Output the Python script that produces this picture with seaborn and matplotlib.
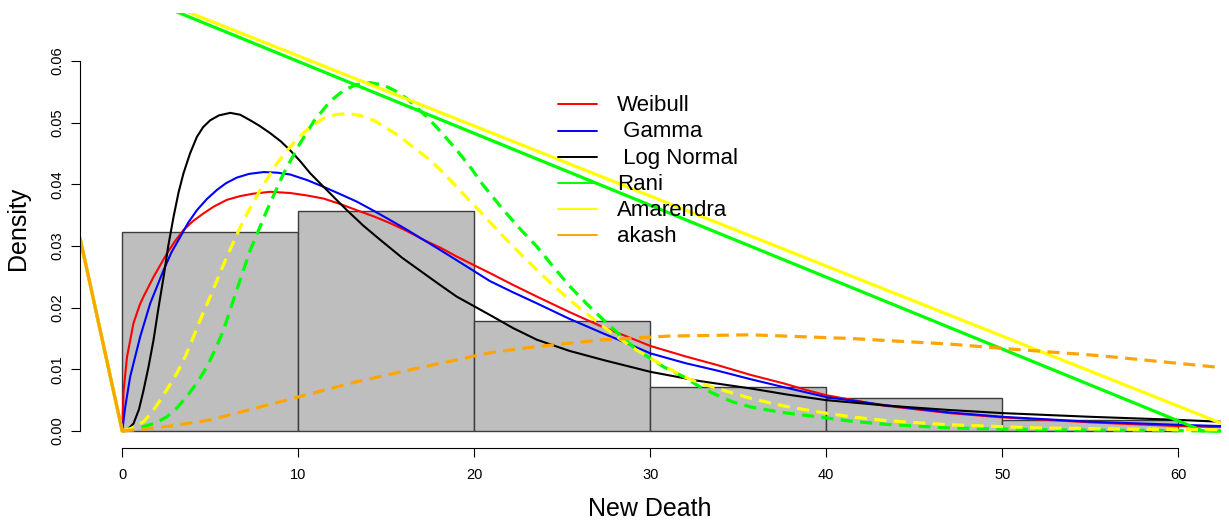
import numpy as np
import matplotlib
matplotlib.use("Agg")
import matplotlib.pyplot as plt
from matplotlib.lines import Line2D
import seaborn as sns

# histogram of new deaths (density scale)
bin_edges = [0, 10, 20, 30, 40, 50, 60]
hist_density = [0.0322, 0.0357, 0.0179, 0.0071, 0.0054, 0.0017]

# fitted densities
weibull_x = [0, 0.08, 0.27, 0.64, 1.0, 1.21, 1.78, 2.1, 2.54, 3.0, 3.48, 4.0, 4.62, 5.2, 5.95,
             6.7, 7.46, 8.41, 9.55, 10.5, 11.44, 12.4, 13.33, 14.3, 15.23, 16.2, 17.12, 18.1,
             19.0, 20.9, 22.2, 23.56, 25.4, 27.35, 28.7, 30, 32.0, 33.8, 35.7, 37.6, 38.8, 40,
             43.3, 47, 50, 55, 60, 62.4]
weibull_y = [0, 0.0066, 0.012, 0.0175, 0.0205, 0.0218, 0.025, 0.0266, 0.0288, 0.0308, 0.0326,
             0.034, 0.0353, 0.0364, 0.0375, 0.0381, 0.0385, 0.0388, 0.0386, 0.0382, 0.0377,
             0.0368, 0.0358, 0.0348, 0.0337, 0.0324, 0.031, 0.0297, 0.0283, 0.0256, 0.0237,
             0.0218, 0.0193, 0.0168, 0.0153, 0.0138, 0.0121, 0.0107, 0.0091, 0.0077, 0.0067,
             0.0058, 0.0041, 0.0029, 0.0022, 0.0014, 0.0008, 0.0006]

gamma_x = [0, 0.17, 0.45, 1.02, 1.59, 2.35, 2.8, 3.3, 3.75, 4.24, 4.8, 5.38, 5.9, 6.51, 7.2,
           8.03, 8.8, 9.55, 10.5, 11.44, 12.4, 13.33, 14.3, 15.23, 16.2, 17.12, 18.1, 19.0,
           20.9, 22.2, 23.56, 25.4, 27.35, 28.7, 30, 32.0, 33.8, 35.7, 37.6, 38.8, 40, 43.3,
           47, 50, 55, 60, 62.4]
gamma_y = [0, 0.0039, 0.0088, 0.0153, 0.0207, 0.0261, 0.029, 0.0315, 0.0338, 0.0358, 0.0376,
           0.0391, 0.0402, 0.0411, 0.0417, 0.042, 0.0419, 0.0416, 0.0407, 0.0396, 0.0384,
           0.0372, 0.0357, 0.0342, 0.0326, 0.031, 0.0293, 0.0277, 0.0243, 0.0225, 0.0207,
           0.0182, 0.0158, 0.0142, 0.0126, 0.011, 0.0098, 0.0084, 0.0071, 0.0063, 0.0055,
           0.0042, 0.003, 0.0023, 0.0015, 0.001, 0.0008]

lognorm_x = [0, 0.3, 0.64, 0.95, 1.21, 1.5, 1.78, 2.05, 2.35, 2.62, 2.92, 3.2, 3.48, 3.85,
             4.24, 4.6, 5.0, 5.5, 6.14, 6.7, 7.27, 7.8, 8.41, 9.0, 9.55, 10.1, 10.68, 11.44,
             12.1, 12.77, 13.7, 14.66, 15.9, 17.12, 18.0, 19.0, 20.9, 22.2, 23.56, 25.4, 27.35,
             30, 32.8, 35.7, 37.8, 40, 43.5, 47, 50, 55, 60, 62.4]
lognorm_y = [0, 0.0002, 0.0012, 0.0035, 0.0066, 0.0105, 0.0148, 0.0198, 0.025, 0.0301, 0.0348,
             0.0387, 0.0418, 0.045, 0.0477, 0.0493, 0.0504, 0.0512, 0.0516, 0.0513, 0.0504,
             0.0495, 0.0483, 0.047, 0.0455, 0.0438, 0.0418, 0.0396, 0.0377, 0.0358, 0.0333,
             0.031, 0.0281, 0.0256, 0.0238, 0.0218, 0.0188, 0.0167, 0.0148, 0.013, 0.0115,
             0.0096, 0.0081, 0.0069, 0.0059, 0.005, 0.0041, 0.0034, 0.0029, 0.0023, 0.0018,
             0.0015]

rani_dash_x = [0, 1.21, 1.9, 2.54, 3.1, 3.67, 4.25, 4.81, 5.3, 5.76, 6.51, 7.27, 8.22, 9.17,
               10.11, 10.9, 11.82, 12.6, 13.33, 14.1, 14.85, 15.5, 16.18, 16.8, 17.5, 18.2, 19.0,
               19.8, 20.5, 21.67, 22.6, 23.56, 24.5, 25.45, 26.4, 27.35, 28.3, 29.24, 30.0,
               30.76, 31.9, 32.8, 33.8, 34.7, 35.7, 37.5, 39.5, 41.4, 43.3, 45, 47, 52, 57, 62.4]
rani_dash_y = [0, 0.0007, 0.0013, 0.0023, 0.0037, 0.0056, 0.0078, 0.0104, 0.0133, 0.0164,
               0.0229, 0.0293, 0.0358, 0.0418, 0.0467, 0.0503, 0.0535, 0.0553, 0.0562, 0.0565,
               0.0561, 0.0552, 0.0539, 0.0523, 0.0504, 0.0482, 0.0456, 0.0427, 0.0399, 0.0358,
               0.0328, 0.0299, 0.0266, 0.0234, 0.0206, 0.018, 0.0155, 0.0131, 0.0118, 0.0104,
               0.0088, 0.0072, 0.0058, 0.0047, 0.0039, 0.003, 0.0023, 0.0016, 0.0011, 0.0008,
               0.0005, 0.0002, 0.0001, 0.0]

amar_dash_x = [0, 0.5, 1.21, 1.7, 2.16, 2.6, 3.11, 3.6, 4.05, 4.5, 5.0, 5.95, 6.89, 7.84, 8.79,
               9.4, 9.92, 10.68, 11.44, 12.1, 12.77, 13.5, 14.28, 15.0, 15.8, 16.6, 17.5, 18.2,
               19.0, 20.5, 21.67, 22.6, 23.56, 24.5, 25.45, 26.4, 27.35, 28.3, 29.24, 30.0,
               30.9, 31.9, 32.8, 33.8, 35.7, 37.5, 39.5, 41.4, 43.3, 47, 52, 57, 62.4]
amar_dash_y = [0, 0.0004, 0.0015, 0.0031, 0.005, 0.007, 0.0094, 0.0122, 0.0153, 0.0185,
               0.0218, 0.0283, 0.0342, 0.0391, 0.0434, 0.0456, 0.0473, 0.0493, 0.0507, 0.0513,
               0.0515, 0.0512, 0.0504, 0.0492, 0.0477, 0.0459, 0.0439, 0.042, 0.0396, 0.0351,
               0.0315, 0.0288, 0.0261, 0.0236, 0.0212, 0.019, 0.0169, 0.0149, 0.0131, 0.0118,
               0.0104, 0.0088, 0.0078, 0.0069, 0.0053, 0.0041, 0.0031, 0.0023, 0.0017, 0.001,
               0.0005, 0.0003, 0.0002]

akash_dash_x = [0, 1.21, 3.0, 5.0, 7.84, 10.11, 13.33, 17.12, 20.9, 23.56, 27.35, 31.1, 35.7,
                41.4, 47, 50, 55.6, 62.4]
akash_dash_y = [0, 0.0003, 0.0009, 0.0018, 0.0039, 0.0056, 0.008, 0.0104, 0.0127, 0.0137,
                0.0148, 0.0154, 0.0156, 0.015, 0.0141, 0.0134, 0.0122, 0.0103]

# the straight solid lines (NaN breaks the segments)
rani_x = [-2.4, 0.0, np.nan, 0.0, 61.4, 62.4]
rani_y = [0.0313, 0.0, np.nan, 0.0716, 0.0, 0.0]
amar_x = [-2.4, 0.0, np.nan, 0.0, 62.4]
amar_y = [0.0313, 0.0, np.nan, 0.0722, 0.0013]
akash_x = [-2.4, 0.0]
akash_y = [0.0313, 0.0]

legend_labels = ["Weibull", " Gamma", " Log Normal", "Rani", "Amarendra", "akash"]
legend_colors = ["#FF0000", "#0000FF", "#000000", "#00FF00", "#FFFF00", "#FFA500"]

sns.set_theme(style="white")
plt.rcParams["font.family"] = ["Liberation Sans", "DejaVu Sans"]
plt.rcParams.update({"text.color": "black", "axes.labelcolor": "black",
                     "xtick.color": "black", "ytick.color": "black"})

W, H = 1229, 521
fig = plt.figure(figsize=(W / 100, H / 100), dpi=100)
ax = fig.add_axes([80 / W, 1 - 447.5 / H, 1140.5 / W, 434.5 / H])

mids = [(a + b) / 2 for a, b in zip(bin_edges[:-1], bin_edges[1:])]
sns.histplot(x=mids, weights=hist_density, bins=bin_edges, stat="count", ax=ax,
             color="#BEBEBE", edgecolor="#3C3C3C", linewidth=1, alpha=1)

thin = 1.5
thick = 2.3
dash = (3.8, 2.3)
ax.plot(weibull_x, weibull_y, color="#FF0000", lw=thin)
ax.plot(gamma_x, gamma_y, color="#0000FF", lw=thin)
ax.plot(lognorm_x, lognorm_y, color="#000000", lw=thin)
ax.plot(rani_x, rani_y, color="#00FF00", lw=thick)
ax.plot(rani_dash_x, rani_dash_y, color="#00FF00", lw=thick, dashes=dash)
ax.plot(amar_x, amar_y, color="#FFFF00", lw=thick)
ax.plot(amar_dash_x, amar_dash_y, color="#FFFF00", lw=thick, dashes=dash)
ax.plot(akash_x, akash_y, color="#FFA500", lw=thick)
ax.plot(akash_dash_x, akash_dash_y, color="#FFA500", lw=thick, dashes=dash)

ax.set_xlim(-2.4, 62.4)
ax.set_ylim(-0.00268, 0.0678)
ax.set_xticks(range(0, 61, 10))
ax.set_yticks(np.arange(0, 0.061, 0.01))
ax.set_yticklabels([f"{v:.2f}" for v in np.arange(0, 0.061, 0.01)], rotation=90, va="center")
ax.tick_params(axis="both", length=6.5, width=0.8, color="black", labelsize=10.5,
               labelcolor="black", direction="out", bottom=True, left=True)
ax.tick_params(axis="x", pad=8)
ax.tick_params(axis="y", pad=5)
for side in ["top", "right"]:
    ax.spines[side].set_visible(False)
for side in ["left", "bottom"]:
    ax.spines[side].set_color("black")
    ax.spines[side].set_linewidth(0.8)
ax.spines["left"].set_bounds(0, 0.06)
ax.spines["bottom"].set_bounds(0, 60)
ax.set_xlabel("")
ax.set_ylabel("")
ax.grid(False)

fig.text(18 / W, 1 - 228 / H, "Density", rotation=90, ha="center", va="center", fontsize=18)
fig.text(650 / W, 1 - 516 / H, "New Death", ha="center", va="baseline", fontsize=18)

# legend without box
row0, step = 104.3, 26.2
for i, (lab, col) in enumerate(zip(legend_labels, legend_colors)):
    yy = 1 - (row0 + i * step) / H
    fig.add_artist(Line2D([558 / W, 597 / W], [yy, yy], color=col, lw=1.4))
    fig.text(617 / W, yy - 1.5 / H, lab, ha="left", va="center", fontsize=16)

fig.savefig("out.png", dpi=100)
